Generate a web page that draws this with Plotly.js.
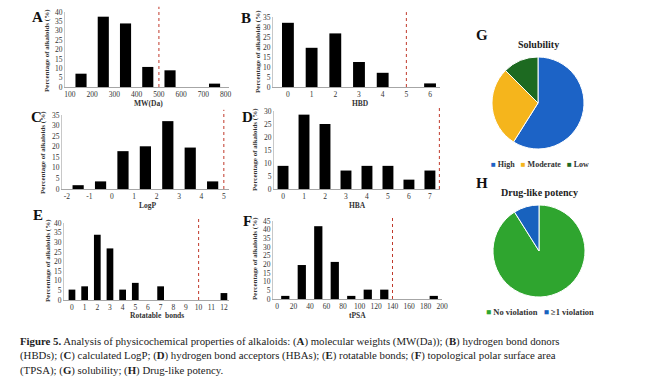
<!DOCTYPE html>
<html><head><meta charset="utf-8">
<script src="https://cdn.plot.ly/plotly-3.0.1.min.js"></script>
<style>html,body{margin:0;padding:0;background:#fff}</style>
</head><body><div id="chart" style="width:645px;height:390px"></div>
<script>
// ---- data (percentage of alkaloids) ----
const mwBins = [150, 250, 350, 450, 550, 650, 750];
const mwPct = [7.1, 37.5, 33.9, 10.7, 8.9, 0, 1.8];
const mwTicks = [100, 200, 300, 400, 500, 600, 700, 800];

const hbdBins = [0, 1, 2, 3, 4, 5, 6];
const hbdPct = [32.1, 19.6, 26.8, 12.5, 7.1, 0, 1.8];
const hbdTicks = [0, 1, 2, 3, 4, 5, 6];

const logpBins = [-1.5, -0.5, 0.5, 1.5, 2.5, 3.5, 4.5];
const logpPct = [1.8, 3.6, 17.9, 20.2, 32.1, 19.6, 3.6];
const logpTicks = [-2, -1, 0, 1, 2, 3, 4, 5];

const hbaBins = [0, 1, 2, 3, 4, 5, 6, 7];
const hbaPct = [8.9, 28.6, 25.0, 7.1, 8.9, 8.9, 3.6, 7.1];
const hbaTicks = [0, 1, 2, 3, 4, 5, 6, 7];

const rotBins = [0, 1, 2, 3, 4, 5, 6, 7, 8, 9, 10, 11, 12];
const rotPct = [5.4, 7.1, 33.9, 26.8, 5.4, 8.9, 0, 7.1, 0, 0, 0, 0, 3.6];
const rotTicks = [0, 1, 2, 3, 4, 5, 6, 7, 8, 9, 10, 11, 12];

const tpsaBins = [10, 30, 50, 70, 90, 110, 130, 150, 170, 190];
const tpsaPct = [1.8, 19.6, 42.0, 21.4, 1.8, 5.4, 5.4, 0, 0, 1.8];
const tpsaTicks = [0, 20, 40, 60, 80, 100, 120, 140, 160, 180, 200];

// rule-of-five style limits (dashed lines)
const mwLimit = 500, hbdLimit = 5, logpLimit = 5, hbaLimit = 7.45, rotLimit = 10, tpsaLimit = 140;

const solLabels = ['High', 'Moderate', 'Low'];
const solCount = [33, 16, 7];
const drugLabels = ['No violation', '≥1 violation'];
const drugCount = [51, 5];

// ---- styles / layout ----
const W = 645, H = 390;
const px = (a, b) => [a / W, b / W];
const py = (top, bottom) => [1 - bottom / H, 1 - top / H];
const SERIF = '"Liberation Serif", "Times New Roman", "DejaVu Serif", serif';
const solColors = ['#1C63C6', '#F5B51C', '#1D6A21'];
const drugColors = ['#2FA52F', '#1862BE'];

const panels = [
  {x: mwBins, y: mwPct, ticks: mwTicks, lim: mwLimit, w: 50, xr: [78, 815], yr: [0, 40], dom: [65, 229, 12, 87],
   letter: 'A', lp: [37, 17], title: 'MW(Da)', tp: [148, 104], yt: [47, 51]},
  {x: hbdBins, y: hbdPct, ticks: hbdTicks, lim: hbdLimit, w: 0.5, xr: [-0.63, 6.42], yr: [0, 35], dom: [273, 440, 17, 87],
   letter: 'B', lp: [246, 18], title: 'HBD', tp: [360, 104], yt: [258, 52]},
  {x: logpBins, y: logpPct, ticks: logpTicks, lim: logpLimit, w: 0.5, xr: [-2.22, 5.23], yr: [0, 35], dom: [62, 229, 115, 189],
   letter: 'C', lp: [36, 117], title: 'LogP', tp: [148, 205], yt: [43, 153]},
  {x: hbaBins, y: hbaPct, ticks: hbaTicks, lim: hbaLimit, w: 0.52, xr: [-0.43, 7.48], yr: [0, 30], dom: [274, 440, 111, 189],
   letter: 'D', lp: [247, 117], title: 'HBA', tp: [357, 205], yt: [255, 150]},
  {x: rotBins, y: rotPct, ticks: rotTicks, lim: rotLimit, w: 0.53, xr: [-0.63, 12.4], yr: [0, 40], dom: [64, 229, 223, 300],
   letter: 'E', lp: [38, 215], title: 'Rotatable  bonds', tp: [157, 315.5], yt: [48, 261]},
  {x: tpsaBins, y: tpsaPct, ticks: tpsaTicks, lim: tpsaLimit, w: 10, xr: [-4.9, 200], yr: [0, 45], dom: [273, 442, 221, 299],
   letter: 'F', lp: [247, 221], title: 'tPSA', tp: [357, 315], yt: [255, 259]}
];

const data = [], shapes = [], annotations = [];
const layout = {
  width: W, height: H, margin: {l: 0, r: 0, t: 0, b: 0},
  paper_bgcolor: '#fff', plot_bgcolor: '#fff', showlegend: false,
  font: {family: SERIF, size: 7, color: '#333'}
};

panels.forEach((p, i) => {
  const n = i === 0 ? '' : String(i + 1);
  data.push({type: 'bar', x: p.x, y: p.y, width: p.w, marker: {color: '#000'},
    xaxis: 'x' + n, yaxis: 'y' + n, hoverinfo: 'skip'});
  layout['xaxis' + n] = {domain: px(p.dom[0], p.dom[1]), anchor: 'y' + n, range: p.xr,
    tickvals: p.ticks, ticktext: p.ticks.map(String), showgrid: false, zeroline: false,
    showline: true, linecolor: '#a6a6a6', linewidth: 1, ticks: '', tickfont: {family: SERIF, size: 7.5, color: '#333'}, fixedrange: true};
  layout['yaxis' + n] = {domain: py(p.dom[2], p.dom[3]), anchor: 'x' + n, range: p.yr, dtick: 5,
    showgrid: false, zeroline: false, showline: true, linecolor: '#c8c8c8', linewidth: 1, ticks: '',
    tickfont: {family: SERIF, size: 7.5, color: '#333'}, fixedrange: true};
  shapes.push({type: 'line', xref: 'x' + n, yref: 'y' + n + ' domain', x0: p.lim, x1: p.lim, y0: 0, y1: 1.07,
    line: {color: '#C0392B', width: 1, dash: 'dot'}});
  annotations.push({text: '<b>' + p.letter + '</b>', xref: 'paper', yref: 'paper', x: p.lp[0] / W, y: 1 - p.lp[1] / H,
    xanchor: 'center', yanchor: 'middle', showarrow: false, font: {family: SERIF, size: 15, color: '#111'}});
  annotations.push({text: '<b>' + p.title + '</b>', xref: 'paper', yref: 'paper', x: p.tp[0] / W, y: 1 - p.tp[1] / H,
    xanchor: 'center', yanchor: 'middle', showarrow: false, font: {family: SERIF, size: 7.5, color: '#333'}});
  annotations.push({text: '<b>Percentage of alkaloids (%)</b>', xref: 'paper', yref: 'paper', x: p.yt[0] / W, y: 1 - p.yt[1] / H,
    xanchor: 'center', yanchor: 'middle', textangle: -90, showarrow: false, font: {family: SERIF, size: 7, color: '#333'}});
});

// pies
function pieDom(cx, cy, r) { return {x: px(cx - r, cx + r), y: py(cy - r, cy + r)}; }
data.push({type: 'pie', labels: solLabels, values: solCount, marker: {colors: solColors, line: {color: '#fff', width: 1}},
  sort: false, direction: 'clockwise', rotation: 0, textinfo: 'none', hoverinfo: 'skip', domain: pieDom(538, 103, 46)});
data.push({type: 'pie', labels: drugLabels, values: drugCount, marker: {colors: drugColors, line: {color: '#fff', width: 1}},
  sort: false, direction: 'clockwise', rotation: 0, textinfo: 'none', hoverinfo: 'skip', domain: pieDom(539, 251, 46)});

function legendText(labels, colors) {
  return labels.map((l, i) => '<span style="color:' + colors[i] + '">■</span> <b>' + l + '</b>').join('   ');
}
annotations.push({text: '<b>G</b>', xref: 'paper', yref: 'paper', x: 482 / W, y: 1 - 35 / H, showarrow: false,
  xanchor: 'center', yanchor: 'middle', font: {family: SERIF, size: 15, color: '#111'}});
annotations.push({text: '<b>Solubility</b>', xref: 'paper', yref: 'paper', x: 538 / W, y: 1 - 44 / H, showarrow: false,
  xanchor: 'center', yanchor: 'middle', font: {family: SERIF, size: 10, color: '#222'}});
annotations.push({text: legendText(solLabels, solColors), xref: 'paper', yref: 'paper', x: 540 / W, y: 1 - 164 / H,
  showarrow: false, xanchor: 'center', yanchor: 'middle', font: {family: SERIF, size: 8, color: '#333'}});
annotations.push({text: '<b>H</b>', xref: 'paper', yref: 'paper', x: 482 / W, y: 1 - 183 / H, showarrow: false,
  xanchor: 'center', yanchor: 'middle', font: {family: SERIF, size: 15, color: '#111'}});
annotations.push({text: '<b>Drug-like potency</b>', xref: 'paper', yref: 'paper', x: 539 / W, y: 1 - 192 / H, showarrow: false,
  xanchor: 'center', yanchor: 'middle', font: {family: SERIF, size: 10, color: '#222'}});
annotations.push({text: legendText(drugLabels, drugColors), xref: 'paper', yref: 'paper', x: 540 / W, y: 1 - 312 / H,
  showarrow: false, xanchor: 'center', yanchor: 'middle', font: {family: SERIF, size: 8.5, color: '#333'}});

// caption
const caption = [
  '<b>Figure 5.</b> Analysis of physicochemical properties of alkaloids: (<b>A</b>) molecular weights (MW(Da)); (<b>B</b>) hydrogen bond donors',
  '(HBDs); (<b>C</b>) calculated LogP; (<b>D</b>) hydrogen bond acceptors (HBAs); (<b>E</b>) rotatable bonds; (<b>F</b>) topological polar surface area',
  '(TPSA); (<b>G</b>) solubility; (<b>H</b>) Drug-like potency.'
];
caption.forEach((t, i) => annotations.push({text: t, xref: 'paper', yref: 'paper', x: 18 / W, y: 1 - (341 + 14.5 * i) / H,
  xanchor: 'left', yanchor: 'middle', showarrow: false, font: {family: SERIF, size: 10.8, color: '#222'}}));

layout.shapes = shapes;
layout.annotations = annotations;
Plotly.newPlot('chart', data, layout, {staticPlot: true, displayModeBar: false});
</script></body></html>
